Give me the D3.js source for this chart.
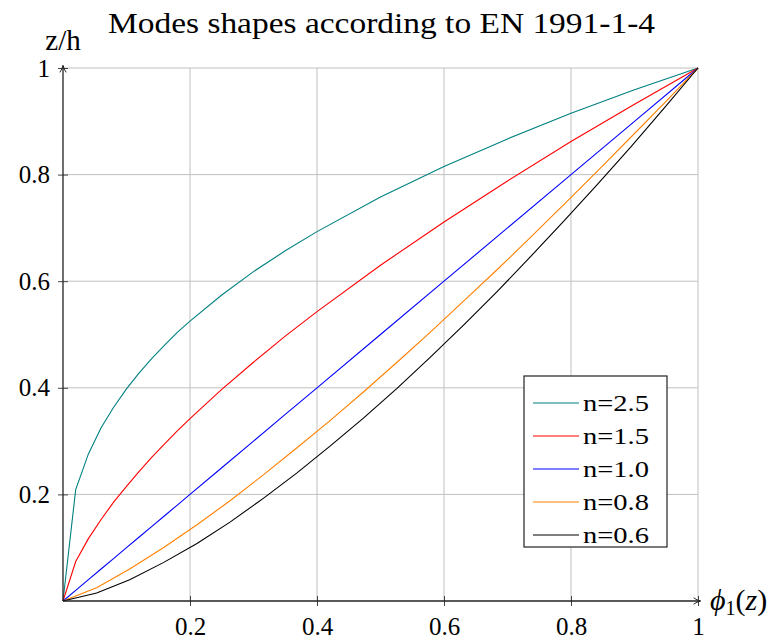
<!DOCTYPE html>
<html>
<head>
<meta charset="utf-8">
<script src="https://cdn.jsdelivr.net/npm/d3@7"></script>
<style>
  body { margin: 0; background: #fff; }
  text { font-family: 'Liberation Serif', 'DejaVu Serif', serif; fill: #000; }
</style>
</head>
<body>
<div id="chart"></div>
<script>
/* globals d3 */

// phi_1 samples for the finely sampled curves
let phiFine = [0, 0.02, 0.04, 0.06, 0.08, 0.1, 0.12, 0.14, 0.16, 0.18, 0.2, 0.25, 0.3, 0.35, 0.4, 0.5, 0.6, 0.7, 0.8, 0.9, 1]
let zn25 = [0, 0.209, 0.276, 0.325, 0.364, 0.398, 0.428, 0.455, 0.480, 0.504, 0.525, 0.574, 0.618, 0.657, 0.693, 0.758, 0.815, 0.867, 0.915, 0.959, 1]
let zn15 = [0, 0.074, 0.117, 0.153, 0.186, 0.215, 0.243, 0.270, 0.295, 0.319, 0.342, 0.397, 0.448, 0.497, 0.543, 0.630, 0.711, 0.788, 0.862, 0.932, 1]
let zn10 = [0, 0.02, 0.04, 0.06, 0.08, 0.1, 0.12, 0.14, 0.16, 0.18, 0.2, 0.25, 0.3, 0.35, 0.4, 0.5, 0.6, 0.7, 0.8, 0.9, 1]

// coarser samples for the two lower curves
let phiCoarse = [0, 0.053, 0.105, 0.158, 0.211, 0.263, 0.316, 0.368, 0.421, 0.474, 0.526, 0.579, 0.632, 0.684, 0.737, 0.789, 0.842, 0.895, 0.947, 1]
let zn08 = [0, 0.025, 0.060, 0.100, 0.143, 0.188, 0.237, 0.287, 0.339, 0.393, 0.448, 0.505, 0.564, 0.622, 0.683, 0.744, 0.807, 0.871, 0.934, 1]
let zn06 = [0, 0.015, 0.040, 0.072, 0.108, 0.148, 0.193, 0.240, 0.291, 0.344, 0.399, 0.458, 0.519, 0.581, 0.647, 0.713, 0.782, 0.853, 0.925, 1]

let labels = ['n=2.5', 'n=1.5', 'n=1.0', 'n=0.8', 'n=0.6']
let colors = ['#008080', '#ff0000', '#0000ff', '#ff8000', '#000000']
let xTicks = [0.2, 0.4, 0.6, 0.8, 1]
let yTicks = [0.2, 0.4, 0.6, 0.8, 1]

let series = [
  { name: labels[0], xs: phiFine, ys: zn25 },
  { name: labels[1], xs: phiFine, ys: zn15 },
  { name: labels[2], xs: phiFine, ys: zn10 },
  { name: labels[3], xs: phiCoarse, ys: zn08 },
  { name: labels[4], xs: phiCoarse, ys: zn06 }
]

let W = 780
let H = 639
let x = d3.scaleLinear().domain([0, 1]).range([63, 698])
let y = d3.scaleLinear().domain([0, 1]).range([601, 68])

let svg = d3.select('#chart').append('svg').attr('width', W).attr('height', H)

// grid
let grid = svg.append('g').attr('stroke', '#c0c0c0').attr('stroke-width', 1)
grid.selectAll('.gx').data(xTicks).enter().append('line')
    .attr('x1', (d) => x(d)).attr('x2', (d) => x(d))
    .attr('y1', y(0)).attr('y2', y(1))
grid.selectAll('.gy').data(yTicks).enter().append('line')
    .attr('x1', x(0)).attr('x2', x(1))
    .attr('y1', (d) => y(d)).attr('y2', (d) => y(d))

// curves
let line = d3.line().x((d) => x(d[0])).y((d) => y(d[1]))
svg.append('g').selectAll('path')
    .data(series)
    .enter().append('path')
      .attr('fill', 'none')
      .attr('stroke', (d, i) => colors[i])
      .attr('stroke-width', 1.1)
      .attr('d', (d) => line(d.xs.map((v, i) => [v, d.ys[i]])))

// axes with ticks
let fmt = (d) => d === 1 ? '1' : d3.format('.1f')(d)
let xAxis = d3.axisBottom(x).tickValues(xTicks).tickSize(5).tickPadding(11).tickFormat(fmt)
let yAxis = d3.axisLeft(y).tickValues(yTicks).tickSize(5).tickPadding(8).tickFormat(fmt)

let gx = svg.append('g').attr('transform', `translate(0,${y(0)})`).call(xAxis)
let gy = svg.append('g').attr('transform', `translate(${x(0)},0)`).call(yAxis)
;[gx, gy].forEach((g) => {
  g.select('.domain').remove()
  g.selectAll('.tick line').attr('stroke', '#444')
  g.selectAll('.tick text').style('font-size', '25px').attr('fill', '#000')
})
gx.selectAll('.tick line').attr('y1', -5).attr('y2', 5)
gy.selectAll('.tick line').attr('x1', -5).attr('x2', 5)

// axis lines with arrows
let defs = svg.append('defs')
defs.append('marker').attr('id', 'arr')
    .attr('viewBox', '0 -5 10 10').attr('refX', 9).attr('refY', 0)
    .attr('markerWidth', 8).attr('markerHeight', 8).attr('orient', 'auto')
    .attr('markerUnits', 'userSpaceOnUse')
  .append('path').attr('d', 'M1,-4 Q5,-1 10,0 Q5,1 1,4').attr('fill', 'none').attr('stroke', '#222').attr('stroke-width', 1.2)
svg.append('line').attr('x1', x(0)).attr('x2', x(1) + 2).attr('y1', y(0)).attr('y2', y(0))
    .attr('stroke', '#222').attr('stroke-width', 1.3).attr('marker-end', 'url(#arr)')
svg.append('line').attr('x1', x(0)).attr('x2', x(0)).attr('y1', y(0)).attr('y2', y(1) - 2)
    .attr('stroke', '#222').attr('stroke-width', 1.3).attr('marker-end', 'url(#arr)')

// axis labels
let xl = svg.append('text').attr('x', x(1) + 12).attr('y', y(0) + 9).style('font-size', '30px')
xl.append('tspan').style('font-style', 'italic').text('ϕ')
xl.append('tspan').attr('dy', 5).style('font-size', '20px').text('1')
xl.append('tspan').attr('dy', -5).text('(')
xl.append('tspan').style('font-style', 'italic').text('z')
xl.append('tspan').text(')')

svg.append('text').attr('x', x(0)).attr('y', 50).attr('text-anchor', 'middle').style('font-size', '29px').text('z/h')

// title
svg.append('text').attr('x', 108).attr('y', 33).style('font-size', '29px')
    .attr('textLength', 547).attr('lengthAdjust', 'spacingAndGlyphs')
    .text('Modes shapes according to EN 1991-1-4')

// legend
let lg = svg.append('g').attr('transform', 'translate(524,376)')
lg.append('rect').attr('width', 143).attr('height', 171).attr('fill', '#fff').attr('stroke', '#222').attr('stroke-width', 1.2)
let rows = lg.selectAll('.row').data(series).enter().append('g')
    .attr('transform', (d, i) => `translate(0,${19 + i * 33})`)
rows.append('line').attr('x1', 9).attr('x2', 55).attr('y1', 8).attr('y2', 8)
    .attr('stroke', (d, i) => colors[i]).attr('stroke-width', 1.1)
rows.append('text').attr('x', 59).attr('y', 16).style('font-size', '24px')
    .attr('textLength', 66).attr('lengthAdjust', 'spacingAndGlyphs')
    .text((d) => d.name)
</script>
</body>
</html>
